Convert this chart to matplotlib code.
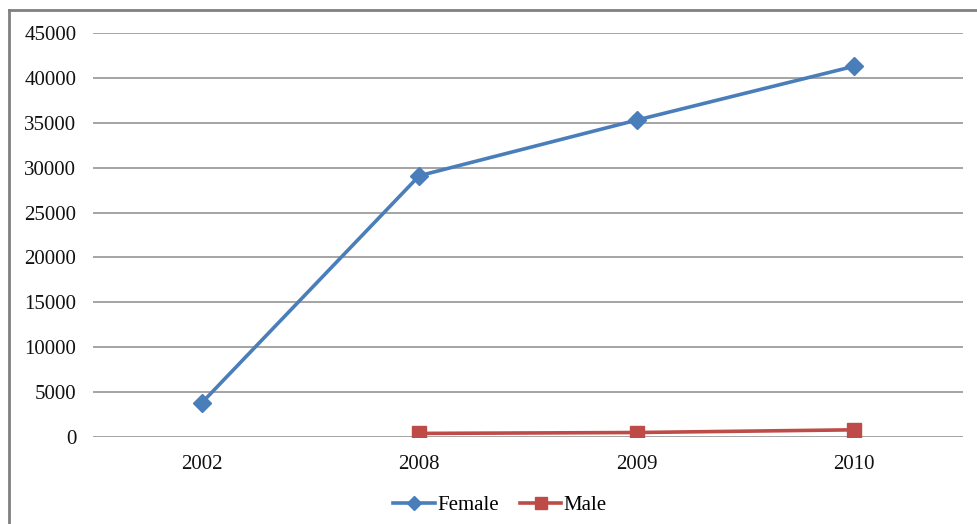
import matplotlib
matplotlib.use("Agg")
import matplotlib.pyplot as plt
from matplotlib.lines import Line2D

years = ["2002", "2008", "2009", "2010"]
female = [3800, 29100, 35300, 41300]
male_years = ["2008", "2009", "2010"]
male = [400, 500, 800]
y_ticks = [0, 5000, 10000, 15000, 20000, 25000, 30000, 35000, 40000, 45000]

W, H = 977, 524
fig = plt.figure(figsize=(W / 100, H / 100), dpi=100)
fig.patch.set_facecolor("white")
plt.rcParams["font.family"] = ["Liberation Serif", "DejaVu Serif"]

# plot area in pixel coordinates
left, right, top, bottom = 93, 963, 33, 437
ax = fig.add_axes([left / W, 1 - bottom / H, (right - left) / W, (bottom - top) / H])

xpos = {y: i for i, y in enumerate(years)}
blue = "#4A7EBB"
red = "#BE4B48"
fs = 15

ax.plot([xpos[y] for y in years], female, color=blue, lw=2.6, marker="D",
        markersize=9, markeredgecolor=blue, label="Female", zorder=3)
ax.plot([xpos[y] for y in male_years], male, color=red, lw=2.6, marker="s",
        markersize=10, markeredgecolor=red, label="Male", zorder=3)

ax.set_xlim(-0.5, len(years) - 0.5)
ax.set_ylim(0, 45000)
ax.set_yticks(y_ticks)
ax.set_yticklabels([str(v) for v in y_ticks])
ax.set_xticks(range(len(years)))
ax.set_xticklabels(years)
ax.tick_params(axis="both", length=0, labelsize=fs, colors="#111111")
ax.tick_params(axis="y", pad=12)
ax.tick_params(axis="x", pad=13)
for s in ax.spines.values():
    s.set_visible(False)
ax.yaxis.grid(True, color="#8C8C8C", lw=1.1)
ax.set_axisbelow(True)

leg = fig.legend(handles=[
    Line2D([], [], color=blue, lw=2.6, marker="D", markersize=7),
    Line2D([], [], color=red, lw=2.6, marker="s", markersize=9)],
    labels=["Female", "Male"], loc="center", bbox_to_anchor=(500 / W, 1 - 505 / H),
    ncol=2, frameon=False, fontsize=fs, handlelength=2.0, handletextpad=0.1,
    columnspacing=1.0)

# outer frame (top and left edges)
fig.add_artist(Line2D([9 / W, 1], [1 - 10 / H, 1 - 10 / H], color="#808080", lw=2.0))
fig.add_artist(Line2D([9 / W, 9 / W], [0, 1 - 10 / H], color="#808080", lw=2.0))

fig.savefig("out.png", dpi=100, facecolor="white")
